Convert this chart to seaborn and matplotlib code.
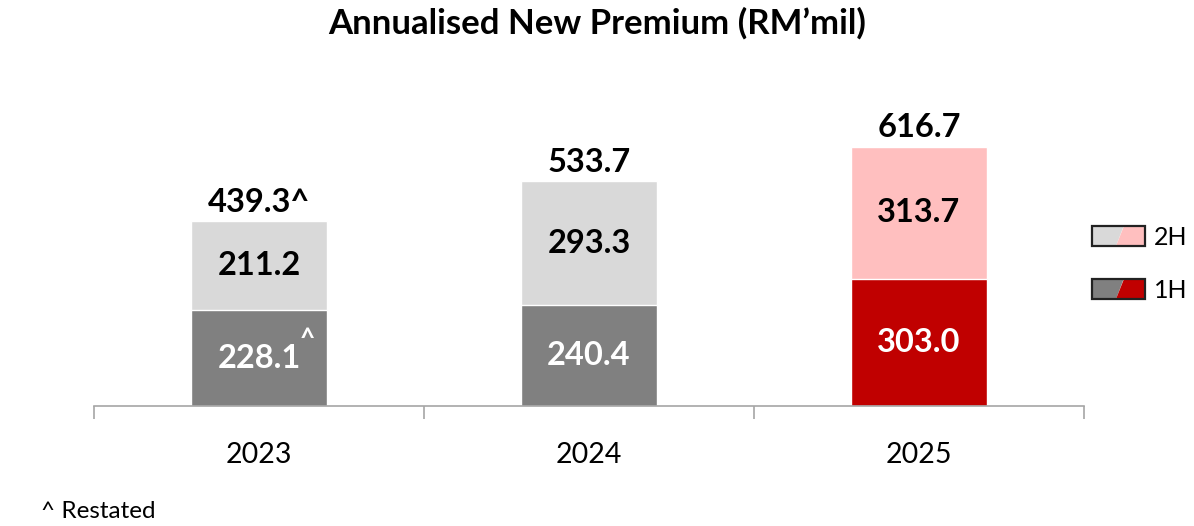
import matplotlib
matplotlib.use("Agg")
import matplotlib.pyplot as plt
from matplotlib.legend_handler import HandlerBase
from matplotlib.patches import Polygon, Rectangle
import seaborn as sns
import pandas as pd

# Annualised new premium, RM'mil
years = ["2023", "2024", "2025"]
first_half = [228.1, 240.4, 303.0]
second_half = [211.2, 293.3, 313.7]
restated = [True, False, False]

color_1h = ["#808080", "#808080", "#C00000"]
color_2h = ["#D9D9D9", "#D9D9D9", "#FFBFBF"]

totals = [a + b for a, b in zip(first_half, second_half)]
df = pd.DataFrame({"year": years, "1H": first_half, "2H": second_half, "total": totals})

sns.set_theme(style="white")
plt.rcParams["font.family"] = ["Lato", "DejaVu Sans"]
plt.rcParams["text.color"] = "black"
plt.rcParams["xtick.color"] = "black"

fig = plt.figure(figsize=(11.94, 5.26), dpi=100)
ax = fig.add_axes([0.0787, 0.2281, 0.8291, 0.608])

bar_w = 0.41
# stacked bars: full total in 2H colour, 1H drawn over it
sns.barplot(data=df, x="year", y="total", hue="year", palette=color_2h,
            width=bar_w, ax=ax, legend=False, saturation=1)
sns.barplot(data=df, x="year", y="1H", hue="year", palette=color_1h,
            width=bar_w, ax=ax, legend=False, saturation=1)

ax.set_xlim(-0.5, 2.5)
ax.set_ylim(0, 760)
ax.set_xlabel("")
ax.set_ylabel("")
ax.set_yticks([])

lab_fs = 23.5
for i, (h1, h2, tot, rs) in enumerate(zip(first_half, second_half, totals, restated)):
    ax.text(i, h1 / 2, f"{h1:.1f}", ha="center", va="center", color="white",
            fontsize=lab_fs, fontweight="bold")
    if rs:
        ax.annotate("^", xy=(i, h1 / 2), xytext=(35, 14), textcoords="offset points",
                    ha="center", va="center", color="white", fontsize=19, fontweight="bold")
    ax.text(i, h1 + h2 / 2, f"{h2:.1f}", ha="center", va="center", color="black",
            fontsize=lab_fs, fontweight="bold")
    ax.text(i, tot + 10, f"{tot:.1f}" + ("^" if rs else ""), ha="center", va="bottom",
            color="black", fontsize=lab_fs, fontweight="bold")

for s in ["top", "left", "right"]:
    ax.spines[s].set_visible(False)
ax.spines["bottom"].set_color("#A6A6A6")
ax.spines["bottom"].set_linewidth(1.2)
ax.set_xticks(range(len(years)))
ax.set_xticklabels(years)
ax.set_xticks([-0.5, 0.5, 1.5, 2.5], minor=True)
ax.tick_params(axis="x", which="major", length=0, labelsize=20.5, pad=26,
               labelcolor="black")
ax.tick_params(axis="x", which="minor", length=9, width=1.2, color="#A6A6A6",
               direction="out", bottom=True)


class SplitHandler(HandlerBase):
    def __init__(self, left, right):
        super().__init__()
        self.left, self.right = left, right

    def create_artists(self, legend, orig_handle, xd, yd, width, height, fontsize, trans):
        x0, y0 = -xd, -yd
        a = x0 + width * 0.45
        b = x0 + width * 0.6
        p1 = Polygon([[x0, y0], [a, y0], [b, y0 + height], [x0, y0 + height]],
                     closed=True, facecolor=self.left, edgecolor="none", transform=trans)
        p2 = Polygon([[a, y0], [x0 + width, y0], [x0 + width, y0 + height], [b, y0 + height]],
                     closed=True, facecolor=self.right, edgecolor="none", transform=trans)
        frame = Rectangle((x0, y0), width, height, facecolor="none",
                          edgecolor="#222222", linewidth=1.6, transform=trans)
        return [p1, p2, frame]


h2 = Rectangle((0, 0), 1, 1)
h1 = Rectangle((0, 0), 1, 1)
fig.legend([h2, h1], ["2H", "1H"], loc="upper left", bbox_to_anchor=(0.896, 0.614),
           frameon=False, fontsize=18, handlelength=2.1, handleheight=0.9,
           labelspacing=1.2, handletextpad=0.35, labelcolor="black",
           handler_map={h2: SplitHandler("#D9D9D9", "#FFBFBF"),
                        h1: SplitHandler("#808080", "#C00000")})

fig.text(0.5, 0.955, "Annualised New Premium (RM\u2019mil)", ha="center", va="center",
         fontsize=25, fontweight="bold", color="black")
fig.text(0.034, 0.027, "^ Restated", ha="left", va="center", fontsize=17.5, color="black")

fig.savefig("out.png", dpi=100)
